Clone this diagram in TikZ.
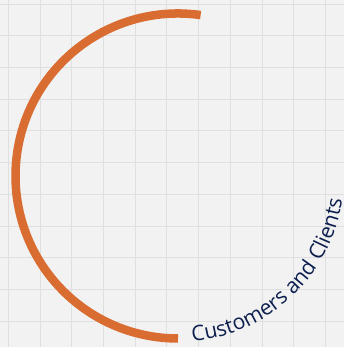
\documentclass[tikz,border=0pt]{standalone}
\usepackage{fontspec}
\setmainfont{Open Sans}
\usetikzlibrary{decorations.text}
\definecolor{bgcol}{HTML}{F2F2F2}
\definecolor{gridcol}{HTML}{DFDFDF}
\definecolor{arccol}{HTML}{D96C30}
\definecolor{textcol}{HTML}{0D1F4F}
\begin{document}
\begin{tikzpicture}[x=1pt,y=1pt]
            \fill[bgcol] (0,0) rectangle (344,347);
            \useasboundingbox (0,0) rectangle (344,347);
            \foreach \i in {0,...,10} {
                \draw[gridcol, line width=0.7pt] ({8.3+31.7*\i},0) -- ({8.3+31.7*\i},347);
                \draw[gridcol, line width=0.7pt] (0,{343-31.7*\i}) -- (344,{343-31.7*\i});
            }

            \coordinate (c) at (178,171);

            \draw[arccol, line width=8.5pt] ([shift={(82:162.5)}]c) arc[start angle=82, end angle=270, radius=162.5];
            \path[decorate, decoration={text along path, text align=left,
                text={|\fontsize{21.2}{21.2}\selectfont\color{textcol}|Customers and Clients}}]
                ([shift={(275:166)}]c) arc[start angle=275, end angle=370, radius=166];
        \end{tikzpicture}
\end{document}
